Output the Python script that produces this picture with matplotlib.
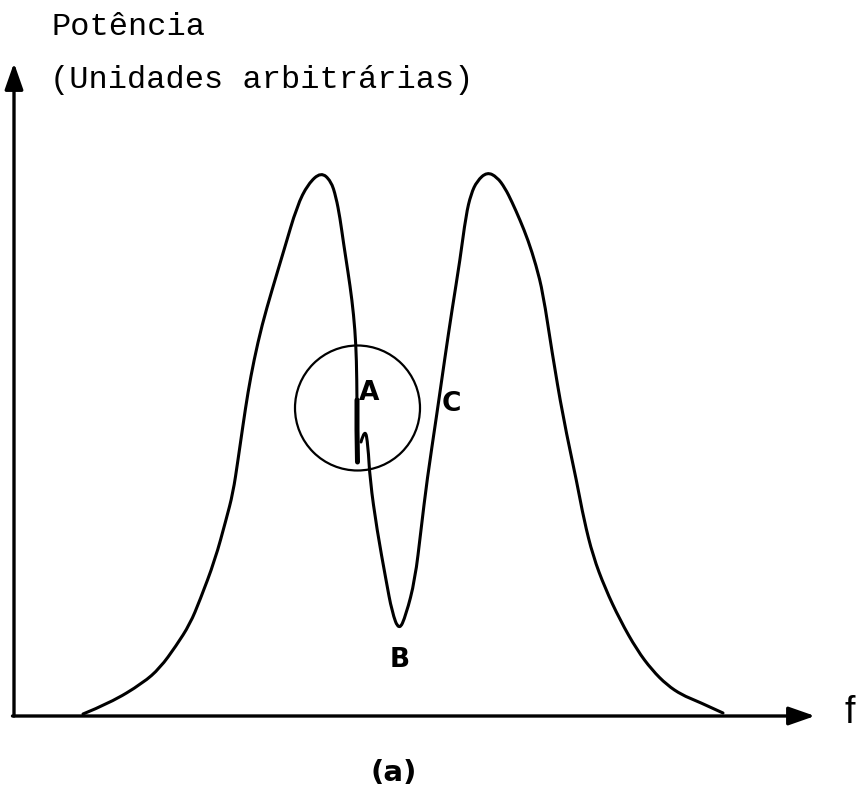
import numpy as np
import matplotlib
matplotlib.use("Agg")
import matplotlib.pyplot as plt
from matplotlib.path import Path
from matplotlib.patches import PathPatch, Circle

# Power spectrum with two peaks (arbitrary units); the curve is broken near A.
# Left branch: from the foot, over the left peak, down to the break at A.
freq_left = [69, 96, 129, 146, 162, 176, 186, 201, 212, 219, 224, 229, 234,
             240, 248, 258, 270, 283, 294, 307, 317, 322, 326, 329.5, 334,
             338, 341, 342.5, 343, 343, 343.5]
power_left = [2, 13, 33, 48, 70, 92, 116, 156, 196, 223, 256, 291, 324,
              356, 391, 426, 466, 510, 532, 544, 535, 519, 498, 473, 444,
              416, 386, 356, 316, 286, 254]

# Right branch: hook at A, minimum B, through C, right peak, down to the foot.
freq_right = [347, 351, 354, 356, 363, 372, 378, 385, 392, 401, 407, 413, 423,
              431, 438, 446, 452, 457, 463, 473, 483, 491, 498, 506, 514, 522,
              529, 538, 549, 563, 570, 579, 591, 606, 623, 638, 653, 668, 683,
              709]
power_right = [274, 288, 271, 236, 186, 136, 104, 85, 101, 136, 186, 236, 303,
               359, 406, 456, 501, 522, 535, 544, 539, 528, 514, 496, 476, 451,
               423, 364, 299, 233, 196, 160, 128, 96, 66, 46, 31, 21, 15,
               3]

# Magnified region around A
zoom_center = (343.5, 308)
zoom_radius = 62.5

freq_axis_end = 801
power_axis_end = 653


def smooth_path(xs, ys):
    pts = np.column_stack([xs, ys]).astype(float)
    verts = [pts[0]]
    codes = [Path.MOVETO]
    n = len(pts)
    for i in range(1, n - 1):
        end = pts[n - 1] if i == n - 2 else (pts[i] + pts[i + 1]) / 2
        verts += [pts[i], end]
        codes += [Path.CURVE3, Path.CURVE3]
    return Path(verts, codes)


fig = plt.figure(figsize=(8.58, 7.96), dpi=100)
ax = fig.add_axes([0, 0, 1, 1])
ax.set_xlim(-14, 844)
ax.set_ylim(-80, 716)
ax.axis("off")

curve_kw = dict(facecolor="none", edgecolor="black", lw=2.2,
                capstyle="round", joinstyle="round")
ax.add_patch(PathPatch(smooth_path(freq_left, power_left), **curve_kw))
ax.add_patch(PathPatch(smooth_path(freq_right, power_right), **curve_kw))
# heavier stroke at the end of the broken branch
ax.plot(freq_left[-3:], power_left[-3:], color="black", lw=3.6,
        solid_capstyle="round")

ax.add_patch(Circle(zoom_center, zoom_radius, facecolor="none",
                    edgecolor="black", lw=1.6))

# axes with arrows
arrow_kw = dict(arrowstyle="-|>,head_length=0.8,head_width=0.28",
                color="black", lw=2.4, mutation_scale=20,
                shrinkA=0, shrinkB=0)
ax.annotate("", xy=(freq_axis_end, 0), xytext=(-1.5, 0), arrowprops=arrow_kw)
ax.annotate("", xy=(0, power_axis_end), xytext=(0, 0), arrowprops=arrow_kw)

mono = "Liberation Mono"
ax.text(37.5, 681, "Potência", fontsize=23, family=mono,
        ha="left", va="baseline")
ax.text(36, 628, "(Unidades arbitrárias)", fontsize=23, family=mono,
        ha="left", va="baseline")
ax.text(836, 3, "f", fontsize=27, family="Liberation Sans",
        ha="center", va="center")

lab_kw = dict(fontsize=19, fontweight="bold", ha="center", va="center",
              family="DejaVu Sans")
ax.text(355, 323, "A", **lab_kw)
ax.text(437, 312, "C", **lab_kw)
ax.text(386, 56, "B", **lab_kw)
ax.text(380, -57, "(a)", fontsize=21, fontweight="bold", ha="center",
        va="center", family="DejaVu Sans")

fig.savefig("out.png", dpi=100)
